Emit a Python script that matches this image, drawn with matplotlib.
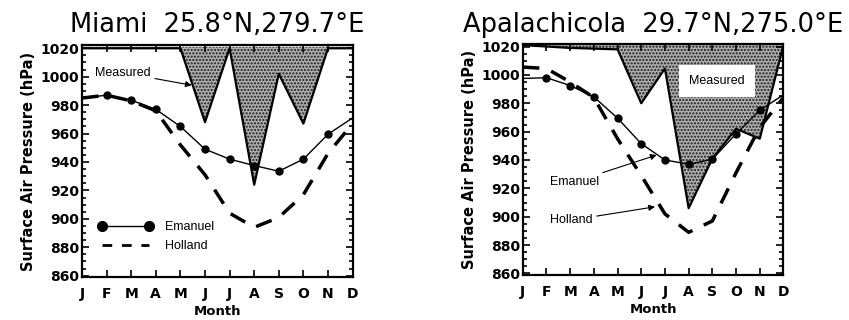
import numpy as np
import matplotlib
matplotlib.use('Agg')
import matplotlib.pyplot as plt
from matplotlib.ticker import MultipleLocator
from matplotlib.lines import Line2D

months = ['J', 'F', 'M', 'A', 'M', 'J', 'J', 'A', 'S', 'O', 'N', 'D']

# Miami 25.8N, 279.7E  (hPa)
miami_emanuel = [985, 987, 983.5, 977, 965, 949, 942, 937.5, 933.5, 942, 959.5, 971]
miami_holland = [985, 987, 983, 976, 952, 931, 904, 894, 901, 917, 946, 967]
miami_measured = [1020, 1020, 1020, 1020, 1020, 968, 1020, 924, 1002, 967, 1020, 1020]

# Apalachicola 29.7N, 275.0E  (hPa)
apal_emanuel = [997.5, 998, 992.5, 984.5, 969.5, 951.5, 940, 937, 940.5, 958.5, 975, 986]
apal_holland = [1005.5, 1004.5, 995, 984, 955, 929, 902, 889, 897, 931, 963, 984]
apal_measured = [1021, 1020, 1019, 1018.5, 1018, 980, 1004.5, 906, 941, 962, 955, 1021]

top_p = 1021
yticks = list(range(860, 1021, 20))

small = dict(family='Liberation Sans', fontsize=9)
dash = (0, (4.8, 3.6))

fig = plt.figure(figsize=(8.49, 3.2), dpi=100)
ax1 = fig.add_axes([0.0966, 0.134, 0.3187, 0.724])
ax2 = fig.add_axes([0.6157, 0.141, 0.3071, 0.7225])


def setup(ax, title, tpad):
    x = np.arange(len(months))
    ax.set_xlim(0, 11)
    ax.set_ylim(859, 1022)
    ax.set_xticks(x)
    ax.set_xticklabels(months, fontsize=10, fontweight='bold')
    ax.set_yticks(yticks)
    ax.set_yticklabels([str(v) for v in yticks], fontsize=10, fontweight='bold')
    ax.yaxis.set_minor_locator(MultipleLocator(5))
    ax.tick_params(which='both', direction='in', top=True, right=True, width=1.2)
    ax.tick_params(which='major', length=5)
    ax.tick_params(which='minor', length=3)
    ax.tick_params(axis='x', pad=7)
    ax.tick_params(axis='y', pad=2)
    for s in ax.spines.values():
        s.set_linewidth(1.6)
    ax.set_xlabel('Month', fontsize=9.5, fontweight='bold', labelpad=3)
    ax.set_ylabel('Surface Air Pressure (hPa)', fontsize=10.5, fontweight='bold', labelpad=3)
    ax.set_title(title, fontsize=18.5, pad=tpad)


def draw(ax, emanuel, holland, measured):
    x = np.arange(len(months))
    ax.fill_between(x, measured, top_p, facecolor='#acacac', edgecolor='#1a1a1a',
                    hatch='.....', linewidth=0, zorder=1)
    ax.plot(x, measured, color='k', lw=1.6, zorder=2)
    ax.plot(x, emanuel, color='k', lw=1.0, marker='o', ms=5,
            markevery=list(range(1, 11)), zorder=3)
    ax.plot(x, holland, color='k', lw=2.5, linestyle=dash, zorder=3)


plt.rcParams['hatch.linewidth'] = 1.0

setup(ax1, 'Miami  25.8\u00b0N,279.7\u00b0E', 9.8)
draw(ax1, miami_emanuel, miami_holland, miami_measured)
ax1.annotate('Measured', xy=(4.46, 994), xytext=(0.53, 1002.8), ha='left', va='center',
             arrowprops=dict(arrowstyle='-|>', color='k', lw=0.8, mutation_scale=9,
                             shrinkA=1, shrinkB=0), **small)
handles = [Line2D([], [], color='k', lw=1.0, marker='o', ms=7),
           Line2D([], [], color='k', lw=2.0, linestyle=(0, (3.5, 3.5)))]
ax1.legend(handles, ['Emanuel', 'Holland'], loc='lower left', bbox_to_anchor=(0.02, 0.06),
           frameon=False, numpoints=2, handlelength=4.3, handletextpad=1.0,
           labelspacing=0.55, prop={'family': 'Liberation Sans', 'size': 9})

setup(ax2, 'Apalachicola  29.7\u00b0N,275.0\u00b0E', 8.6)
draw(ax2, apal_emanuel, apal_holland, apal_measured)
ax2.text(8.2, 995.6, 'Measured', ha='center', va='center', zorder=4,
         bbox=dict(facecolor='white', edgecolor='none', boxstyle='square,pad=0.8'), **small)
ax2.annotate('Emanuel', xy=(5.65, 943.5), xytext=(1.15, 924.6), ha='left', va='center',
             arrowprops=dict(arrowstyle='-|>', color='k', lw=0.8, mutation_scale=9,
                             shrinkA=1, shrinkB=0), **small)
ax2.annotate('Holland', xy=(5.58, 907), xytext=(1.15, 897.6), ha='left', va='center',
             arrowprops=dict(arrowstyle='-|>', color='k', lw=0.8, mutation_scale=9,
                             shrinkA=1, shrinkB=0), **small)

fig.savefig('out.png', dpi=100)
